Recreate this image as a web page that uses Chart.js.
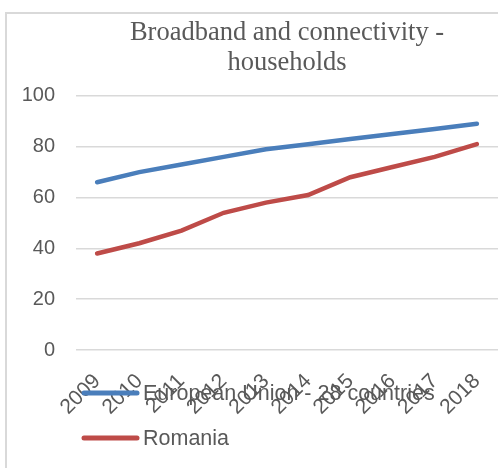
<!DOCTYPE html>
<html>
<head>
<meta charset="utf-8">
<script src="https://cdn.jsdelivr.net/npm/chart.js@4"></script>
<style>
  body { margin: 0; background: #fff; }
  #wrap { position: relative; width: 498px; height: 468px; overflow: hidden; }
  #frame { position: absolute; left: 5px; top: 12px; right: -4px; bottom: -4px;
           border-left: 2px solid #d9d9d9; border-top: 2px solid #d9d9d9; }
  canvas { position: absolute; left: 0; top: 0; }
</style>
</head>
<body>
<div id="wrap">
  <div id="frame"></div>
  <canvas id="chart" width="498" height="468"></canvas>
</div>
<script>
// Households with broadband access, percent
const years = ['2009', '2010', '2011', '2012', '2013', '2014', '2015', '2016', '2017', '2018'];
const euValues = [66, 70, 73, 76, 79, 81, 83, 85, 87, 89];
const roValues = [38, 42, 47, 54, 58, 61, 68, 72, 76, 81];
const seriesNames = ['European Union - 28 countries', 'Romania'];
const yTicks = [0, 20, 40, 60, 80, 100];

const textColor = '#595959';
const sansFamily = '"Liberation Sans", Arial, sans-serif';

// legend drawn over the tick labels, one entry per row
const stackedLegend = {
    id: 'stackedLegend',
    afterDraw(chart) {
        const ctx = chart.ctx;
        const area = chart.chartArea;
        ctx.save();
        ctx.font = '21.5px ' + sansFamily;
        ctx.textBaseline = 'middle';
        ctx.textAlign = 'left';
        chart.data.datasets.forEach((ds, i) => {
            const y = area.bottom + 43 + i * 45;
            const x = area.left + 8;
            ctx.strokeStyle = ds.borderColor;
            ctx.lineWidth = 5;
            ctx.lineCap = 'round';
            ctx.beginPath();
            ctx.moveTo(x, y);
            ctx.lineTo(x + 53, y);
            ctx.stroke();
            ctx.fillStyle = textColor;
            ctx.fillText(ds.label, x + 59, y + 1);
        });
        ctx.restore();
    }
};

new Chart(document.getElementById('chart'), {
    type: 'line',
    data: {
        labels: years,
        datasets: [
            {
                label: seriesNames[0],
                data: euValues,
                borderColor: '#4a7ebb',
                borderWidth: 4.5,
                borderCapStyle: 'round',
                pointRadius: 0,
                tension: 0
            },
            {
                label: seriesNames[1],
                data: roValues,
                borderColor: '#be4b48',
                borderWidth: 4.5,
                borderCapStyle: 'round',
                pointRadius: 0,
                tension: 0
            }
        ]
    },
    plugins: [stackedLegend],
    options: {
        responsive: false,
        animation: false,
        layout: { padding: 0 },
        plugins: {
            legend: { display: false },
            tooltip: { enabled: false },
            title: {
                display: true,
                fullSize: false,
                text: ['Broadband and connectivity -', 'households'],
                color: textColor,
                font: { family: '"Liberation Serif", "Times New Roman", serif', size: 26.5, weight: 'normal', lineHeight: 1.13 },
                padding: { top: 18, bottom: 18 }
            }
        },
        scales: {
            x: {
                offset: true,
                grid: { display: false },
                border: { display: false },
                ticks: {
                    autoSkip: false,
                    minRotation: 45,
                    maxRotation: 45,
                    padding: 11,
                    color: textColor,
                    font: { family: sansFamily, size: 21 }
                },
                afterFit(scale) {
                    scale.height = 118;
                    // let the plot run to the right edge
                    scale.paddingRight = 0;
                }
            },
            y: {
                min: 0,
                max: 100,
                afterBuildTicks(scale) { scale.ticks = yTicks.map(v => ({ value: v })); },
                grid: { color: '#d9d9d9', lineWidth: 1.5, drawTicks: false },
                border: { display: false },
                ticks: {
                    padding: 21,
                    color: textColor,
                    font: { family: sansFamily, size: 20 }
                },
                afterFit(scale) { scale.width = 76; }
            }
        }
    }
});
</script>
</body>
</html>
